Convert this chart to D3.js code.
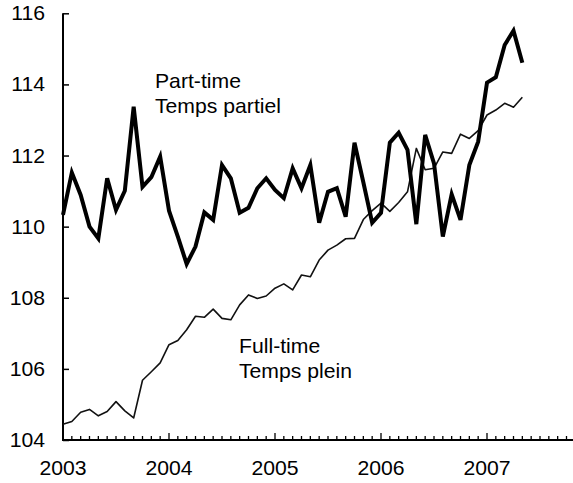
<!DOCTYPE html>
<html><head><meta charset="utf-8">
<script src="https://cdn.jsdelivr.net/npm/d3@7"></script>
<style>html,body{margin:0;padding:0;background:#fff;overflow:hidden}</style>
</head><body>
<svg id="chart" width="573" height="483"></svg>
<script>
const startYear = 2003;
const yearLabels = ["2003","2004","2005","2006","2007"];
const yTicks = [104,106,108,110,112,114,116];
const partTime = [110.33,111.52,110.89,110.0,109.67,111.36,110.47,111.01,113.37,111.12,111.39,111.97,
  110.45,109.72,108.95,109.44,110.4,110.19,111.73,111.36,110.39,110.53,111.08,111.36,
  111.03,110.80,111.64,111.08,111.73,110.11,110.98,111.08,110.28,112.36,111.25,110.11,
  110.39,112.36,112.64,112.16,110.07,112.58,111.78,109.72,110.91,110.19,111.73,112.39,
  114.05,114.2,115.11,115.51,114.61];
const fullTime = [104.44,104.52,104.78,104.86,104.68,104.8,105.08,104.82,104.62,105.68,105.92,106.17,
  106.68,106.8,107.1,107.48,107.45,107.68,107.42,107.38,107.8,108.08,107.98,108.05,
  108.27,108.39,108.22,108.64,108.59,109.06,109.34,109.48,109.66,109.67,110.2,110.45,
  110.66,110.43,110.68,110.98,112.2,111.6,111.64,112.1,112.06,112.6,112.48,112.7,
  113.14,113.28,113.47,113.36,113.64];
const seriesLabels = {part:["Part-time","Temps partiel"], full:["Full-time","Temps plein"]};

const svg = d3.select("#chart");
const x = d3.scaleLinear().domain([0, 60]).range([63, 593]);
const y = d3.scaleLinear().domain([104, 116]).range([440, 13.3]);
const font = "'Liberation Sans', Arial, sans-serif";

// y axis
const yAxis = d3.axisRight(y).tickValues(yTicks).tickSize(6).tickFormat("");
const gy = svg.append("g").attr("transform", `translate(${x(0)},0)`).call(yAxis);
gy.select(".domain").attr("stroke","#000").attr("stroke-width",2).attr("d",`M0,${y(116)}V${y(104)}`);
gy.selectAll(".tick line").attr("stroke","#000").attr("stroke-width",1.5);
svg.append("g").selectAll("text").data(yTicks).join("text")
  .attr("x", 45).attr("y", d => y(d)).attr("dy","0.35em")
  .attr("text-anchor","end").attr("font-family",font).attr("font-size",20)
  .attr("transform-origin", d => `45 ${y(d)}`).attr("transform","scale(1.06,1)")
  .text(d => d);

// x axis
const months = d3.range(0, 61);
const gx = svg.append("g");
gx.append("line").attr("x1", x(0)-1).attr("x2", 600).attr("y1", y(104)).attr("y2", y(104))
  .attr("stroke","#000").attr("stroke-width",2);
gx.selectAll("line.t").data(months).join("line").attr("class","t")
  .attr("x1", d => x(d)).attr("x2", d => x(d))
  .attr("y1", y(104)).attr("y2", d => y(104) - (d % 12 === 0 ? 7 : 4))
  .attr("stroke","#000").attr("stroke-width",1.3);
gx.selectAll("text").data(yearLabels).join("text")
  .attr("x", (d,i) => x(i*12)).attr("y", 475)
  .attr("text-anchor","middle").attr("font-family",font).attr("font-size",20)
  .attr("transform-origin", (d,i) => `${x(i*12)} 475`).attr("transform","scale(1.06,1)")
  .text(d => d);

// lines
const line = d3.line().x((d,i) => x(i)).y(d => y(d));
svg.append("path").datum(fullTime).attr("d", line).attr("fill","none")
  .attr("stroke","#111").attr("stroke-width",1.6).attr("stroke-linejoin","round");
svg.append("path").datum(partTime).attr("d", line).attr("fill","none")
  .attr("stroke","#000").attr("stroke-width",4).attr("stroke-linejoin","miter");

// labels
function label(lines, x0, y0) {
  const t = svg.append("text").attr("font-family",font).attr("font-size",20)
    .attr("transform-origin", `${x0} ${y0}`).attr("transform","scale(1.06,1)");
  lines.forEach((s,i) => t.append("tspan").attr("x", x0).attr("y", y0 + i*25).text(s));
}
label(seriesLabels.part, 155, 88);
label(seriesLabels.full, 239, 353);
</script>
</body></html>
